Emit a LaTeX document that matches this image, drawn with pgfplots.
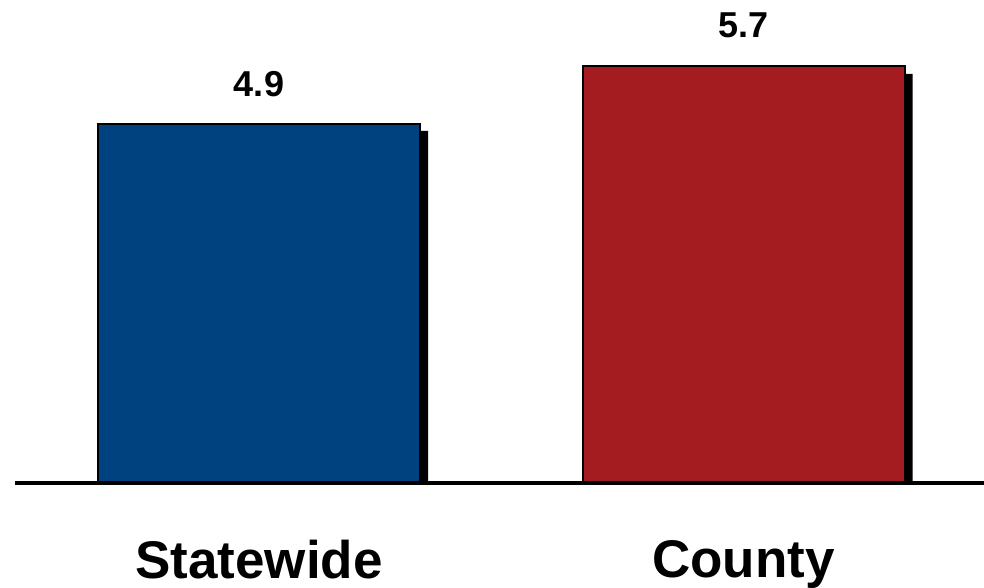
\documentclass[border=0pt]{standalone}
\usepackage{pgfplots}
\pgfplotsset{compat=1.18}
\usepackage{fontspec}
\setmainfont{Liberation Sans}
\definecolor{stateblue}{RGB}{0,66,128}
\definecolor{countyred}{RGB}{165,28,32}

\begin{document}
\begin{tikzpicture}
\useasboundingbox (0,0) rectangle (984pt,588pt);
\begin{axis}[
    at={(15pt,105pt)}, anchor=south west,
    scale only axis,
    width=969pt, height=483pt,
    xmin=-0.5036, xmax=1.4964,
    ymin=0, ymax=6.6,
    clip=false,
    axis x line*=bottom,
    axis y line=none,
    x axis line style={-, line width=4pt, black},
    xtick={0,1},
    xticklabels={Statewide,County},
    major tick length=0pt,
    xticklabel style={font=\fontsize{53}{60}\selectfont\bfseries, yshift=-54pt},
    /pgf/number format/assume math mode=true,
    /pgf/number format/fixed, /pgf/number format/precision=1,
    axis on top,
]
% shadows
\addplot[ybar, bar width=322pt, bar shift=8pt, fill=black, draw=none]
    coordinates {(0,4.81) (1,5.59)};
% bars
\addplot[ybar, bar width=322pt, bar shift=0pt, fill=stateblue, draw=black, line width=2pt,
    nodes near coords, every node near coord/.append style={font=\fontsize{36}{40}\selectfont\bfseries, text=black, inner sep=0pt, yshift=27pt}]
    coordinates {(0,4.9)};
\addplot[ybar, bar width=322pt, bar shift=0pt, fill=countyred, draw=black, line width=2pt,
    nodes near coords, every node near coord/.append style={font=\fontsize{36}{40}\selectfont\bfseries, text=black, inner sep=0pt, yshift=27pt}]
    coordinates {(1,5.7)};
\end{axis}
\end{tikzpicture}
\end{document}
